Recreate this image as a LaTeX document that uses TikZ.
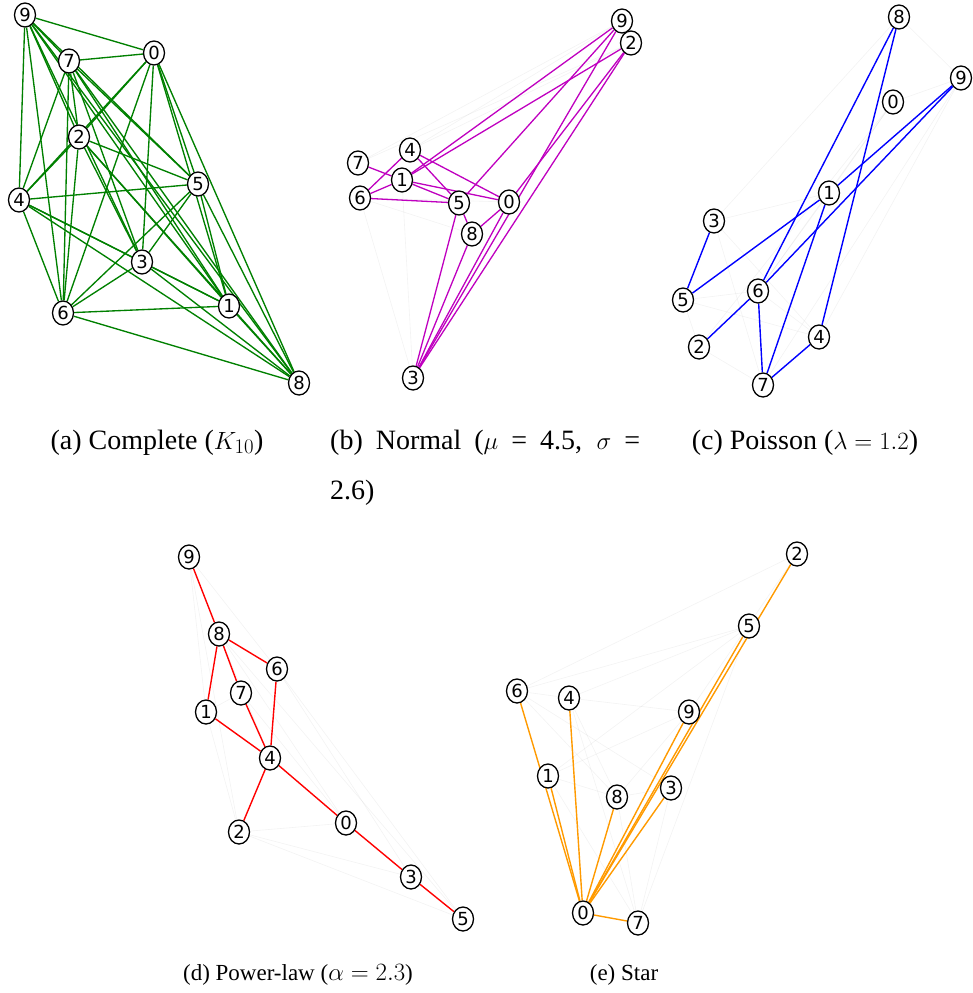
\documentclass[tikz,border=0pt]{standalone}
\usepackage[no-math]{fontspec}
\setmainfont{Liberation Serif}
\newfontfamily\digitfont{DejaVu Sans}
\usetikzlibrary{shapes.geometric}

\definecolor{gGreen}{HTML}{008000}
\definecolor{gMag}{HTML}{BF00BF}
\definecolor{gBlue}{HTML}{0000FF}
\definecolor{gRed}{HTML}{FF0000}
\definecolor{gOrange}{HTML}{FF9A00}

\pgfdeclarelayer{edges}
\pgfsetlayers{edges,main}

\tikzset{
  vtx/.style={ellipse, draw=black, line width=1.3pt, fill=white, inner sep=0pt,
    minimum width=21pt, minimum height=24pt,
    font=\digitfont\fontsize{18}{18}\selectfont},
  edgeK/.style={draw=gGreen, line width=1.35pt},
  edgeN/.style={draw=gMag, line width=1.3pt},
  edgeP/.style={draw=gBlue, line width=1.4pt},
  edgeW/.style={draw=gRed, line width=1.4pt},
  edgeS/.style={draw=gOrange, line width=1.4pt},
  faint/.style={draw=black!60, line width=0.6pt, opacity=0.08},
  capt/.style={font=\fontsize{23}{28}\selectfont, inner sep=0pt, anchor=base},
  captTop/.style={font=\fontsize{28}{33}\selectfont, inner sep=0pt, anchor=base}
}

\begin{document}
\begin{tikzpicture}[x=1pt, y=-1pt]
\useasboundingbox (0,0) rectangle (972,993);

% ---------- (a) complete graph K10 ----------
\foreach \n/\px/\py in {0/154/53, 1/229/306, 2/79/137, 3/142/262, 4/19/200,
                        5/198/184, 6/63/313, 7/69/61, 8/299/383, 9/25/15}
  \node[vtx] (a\n) at (\px,\py) {\n};
\begin{pgfonlayer}{edges}
\foreach \i in {0,...,8} {
  \pgfmathtruncatemacro\nxt{\i+1}
  \foreach \j in {\nxt,...,9} \draw[edgeK] (a\i) -- (a\j);
}
\end{pgfonlayer}

% ---------- (b) normal degree distribution ----------
\foreach \n/\px/\py in {0/509/202, 1/402/180, 2/631/43, 3/413/378, 4/410/150,
                        5/459/203, 6/360/198, 7/358/163, 8/472/234, 9/622/21}
  \node[vtx] (b\n) at (\px,\py) {\n};
\begin{pgfonlayer}{edges}
\foreach \u/\v in {6/3, 1/3, 7/9, 4/2, 4/9, 6/8, 7/5, 7/2, 6/0}
  \draw[faint] (b\u) -- (b\v);
\foreach \u/\v in {7/1, 6/4, 6/1, 6/5, 1/5, 1/0, 4/5, 4/0, 1/9, 1/2, 5/9,
                   2/0, 0/8, 5/8, 3/5, 3/8, 3/0, 3/9, 3/2}
  \draw[edgeN] (b\u) -- (b\v);
\end{pgfonlayer}

% ---------- (c) Poisson degree distribution ----------
\foreach \n/\px/\py in {0/893/102, 1/829/193, 2/699/347, 3/714/221, 4/819/337,
                        5/683/300, 6/758/291, 7/763/385, 8/899/17, 9/961/78}
  \node[vtx] (c\n) at (\px,\py) {\n};
\begin{pgfonlayer}{edges}
\foreach \u/\v in {8/9, 0/9, 0/1, 0/6, 3/1, 3/4, 5/6, 5/4, 2/7, 2/5, 9/4,
                   9/7, 1/6, 3/8, 3/7, 0/2, 6/4}
  \draw[faint] (c\u) -- (c\v);
\foreach \u/\v in {8/6, 8/4, 9/1, 9/6, 1/5, 1/7, 3/5, 6/2, 6/7, 7/4}
  \draw[edgeP] (c\u) -- (c\v);
\end{pgfonlayer}

% ---------- (d) power-law degree distribution ----------
\foreach \n/\px/\py in {0/346/823, 1/206/712, 2/239/832, 3/411/877, 4/270/758,
                        5/463/919, 6/277/669, 7/241/693, 8/219/634, 9/189/557}
  \node[vtx] (d\n) at (\px,\py) {\n};
\begin{pgfonlayer}{edges}
\foreach \u/\v in {9/6, 9/1, 9/2, 8/5, 6/3, 6/5, 1/2, 2/0, 2/3, 2/5, 8/0,
                   7/0, 8/4, 1/7}
  \draw[faint] (d\u) -- (d\v);
\foreach \u/\v in {9/8, 8/1, 8/7, 8/6, 6/4, 7/4, 1/4, 4/2, 4/0, 0/3, 3/5}
  \draw[edgeW] (d\u) -- (d\v);
\end{pgfonlayer}

% ---------- (e) star ----------
\foreach \n/\px/\py in {0/583/913, 1/548/776, 2/797/554, 3/671/788, 4/569/698,
                        5/749/626, 6/517/691, 7/638/923, 8/617/797, 9/689/712}
  \node[vtx] (e\n) at (\px,\py) {\n};
\begin{pgfonlayer}{edges}
\foreach \u/\v in {6/5, 4/5, 6/4, 4/9, 6/3, 6/8, 1/9, 1/5, 1/8, 8/3, 9/8,
                   4/8, 6/2, 2/9, 5/7, 3/7, 8/7, 4/7, 1/7}
  \draw[faint] (e\u) -- (e\v);
\foreach \v in {1,...,9}
  \draw[edgeS] (e0) -- (e\v);
\end{pgfonlayer}

% ---------- captions ----------
\node[captTop] (capA) at (157,449) {(a) Complete ($K_{10}$)};
\node[captTop, anchor=base west] (capB1) at (330,449)
  {\makebox[310pt][s]{(b) Normal ($\mu$ = 4.5, $\sigma$ =}};
\node[captTop, anchor=base west] (capB2) at (330,499) {2.6)};
\node[captTop] (capC) at (805,449) {(c) Poisson ($\lambda = 1.2$)};
\node[capt] (capD) at (298,980) {(d) Power-law ($\alpha = 2.3$)};
\node[capt] (capE) at (624,980) {(e) Star};
\end{tikzpicture}
\end{document}
